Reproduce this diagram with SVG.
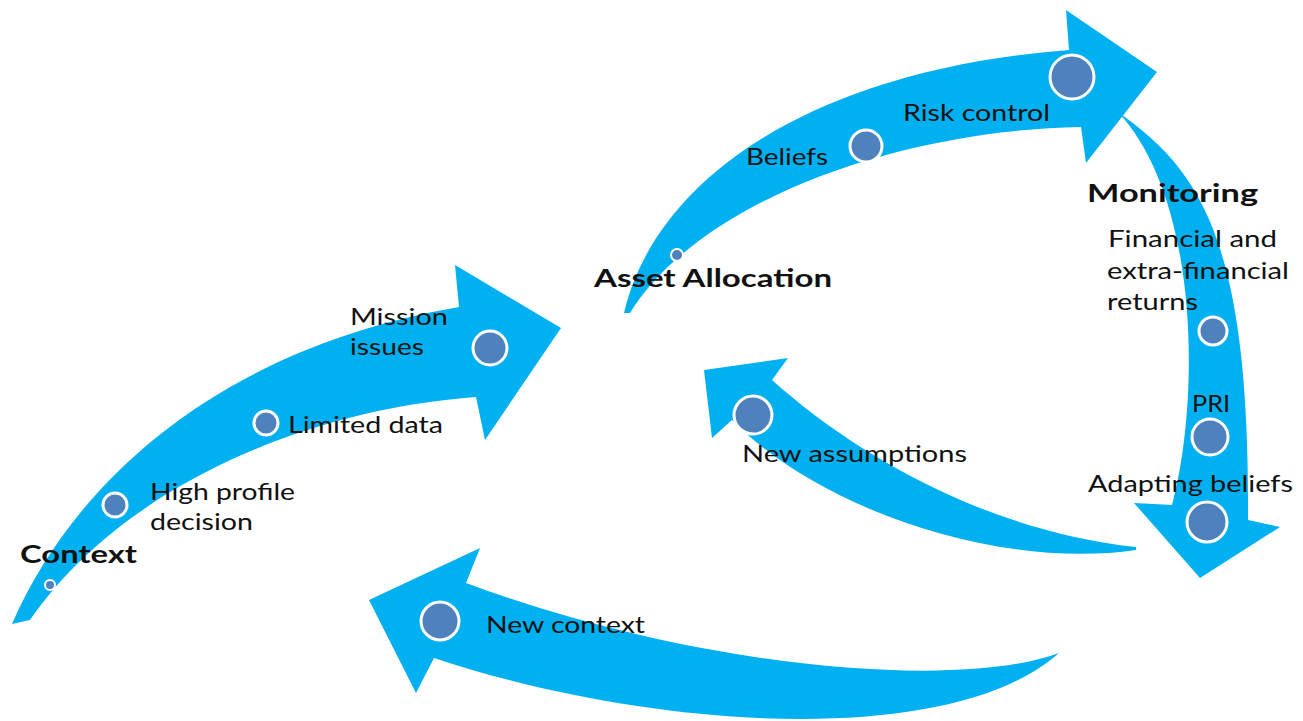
<svg xmlns="http://www.w3.org/2000/svg" width="1303" height="721" viewBox="0 0 1303 721">
<style>
.arrow{fill:#00B0F0;}
.dot{fill:#4F81BD;stroke:#FFFFFF;stroke-width:3;}
.t{font-family:Lato,"Open Sans","Liberation Sans",sans-serif;font-size:24px;fill:#111;}
.b{font-weight:bold;font-size:25px;}
</style>
<rect width="1303" height="721" fill="#FFFFFF"/>
<g id="connectors">
<path class="arrow" d="M12,624 C70,490 210,350 459,307 L455,265 L561,328 L485,440 L476,397 C300,410 120,490 30,620 Z"/>
<path class="arrow" d="M624,313 C655,180 810,70 1069,50 L1066,10 L1157,72 L1086,163 L1081,127 C900,130 700,200 630,313 Z"/>
<path class="arrow" d="M1118,112 C1200,170 1250,240 1248,520 L1280,527 L1200,578 L1134,503 L1172,505 C1200,400 1200,200 1118,112 Z"/>
<path class="arrow" d="M1136,547 C980,530 850,450 772,380 L788,358 L704,370 L712,438 L732,420 C820,510 1000,570 1136,550 Z"/>
<path class="arrow" d="M1059,653 C960,690 700,670 466,583 L480,548 L369,600 L416,693 L434,658 C650,730 950,750 1059,653 Z"/>
</g>
<g id="context">
<circle class="dot" cx="50" cy="585" r="5" style="stroke-width:2"/>
<text class="t b" x="20" y="563" textLength="117" lengthAdjust="spacingAndGlyphs">Context</text>
</g>
<g id="high-profile">
<circle class="dot" cx="115" cy="505" r="12"/>
<text class="t" x="150" y="500" textLength="145" lengthAdjust="spacingAndGlyphs">High profile</text>
<text class="t" x="150" y="530" textLength="103" lengthAdjust="spacingAndGlyphs">decision</text>
</g>
<g id="limited-data">
<circle class="dot" cx="266" cy="423" r="12"/>
<text class="t" x="288" y="433" textLength="155" lengthAdjust="spacingAndGlyphs">Limited data</text>
</g>
<g id="mission">
<circle class="dot" cx="490" cy="348" r="17"/>
<text class="t" x="350" y="325" textLength="98" lengthAdjust="spacingAndGlyphs">Mission</text>
<text class="t" x="350" y="355" textLength="74" lengthAdjust="spacingAndGlyphs">issues</text>
</g>
<g id="asset-allocation">
<circle class="dot" cx="677" cy="255" r="6" style="stroke-width:2"/>
<text class="t b" x="594" y="287" textLength="238" lengthAdjust="spacingAndGlyphs">Asset Allocation</text>
</g>
<g id="beliefs">
<circle class="dot" cx="866" cy="146" r="16"/>
<text class="t" x="746" y="165" textLength="82" lengthAdjust="spacingAndGlyphs">Beliefs</text>
</g>
<g id="risk-control">
<circle class="dot" cx="1072" cy="77" r="22"/>
<text class="t" x="903" y="121" textLength="147" lengthAdjust="spacingAndGlyphs">Risk control</text>
</g>
<g id="monitoring">
<text class="t b" x="1087" y="202" textLength="171" lengthAdjust="spacingAndGlyphs">Monitoring</text>
</g>
<g id="returns">
<circle class="dot" cx="1213" cy="331" r="14"/>
<text class="t" x="1108" y="247" textLength="169" lengthAdjust="spacingAndGlyphs">Financial and</text>
<text class="t" x="1107" y="279" textLength="182" lengthAdjust="spacingAndGlyphs">extra-financial</text>
<text class="t" x="1107" y="310" textLength="91" lengthAdjust="spacingAndGlyphs">returns</text>
</g>
<g id="pri">
<circle class="dot" cx="1210" cy="437" r="18"/>
<text class="t" x="1192" y="412" textLength="38" lengthAdjust="spacingAndGlyphs">PRI</text>
</g>
<g id="adapting-beliefs">
<circle class="dot" cx="1207" cy="522" r="20"/>
<text class="t" x="1088" y="492" textLength="205" lengthAdjust="spacingAndGlyphs">Adapting beliefs</text>
</g>
<g id="new-assumptions">
<circle class="dot" cx="753" cy="415" r="19"/>
<text class="t" x="742" y="462" textLength="225" lengthAdjust="spacingAndGlyphs">New assumptions</text>
</g>
<g id="new-context">
<circle class="dot" cx="440" cy="621" r="19"/>
<text class="t" x="486" y="633" textLength="159" lengthAdjust="spacingAndGlyphs">New context</text>
</g>
</svg>
